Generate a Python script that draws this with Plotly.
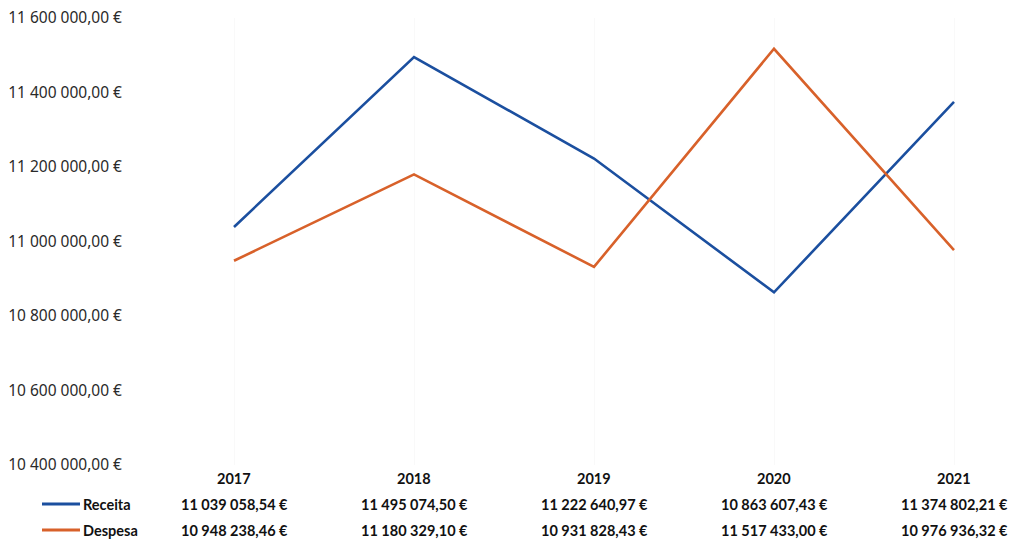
import plotly.graph_objects as go

# Annual revenue vs expenditure (EUR)
years = [2017, 2018, 2019, 2020, 2021]
receita = [11039058.54, 11495074.50, 11222640.97, 10863607.43, 11374802.21]
despesa = [10948238.46, 11180329.10, 10931828.43, 11517433.00, 10976936.32]
series_names = ["Receita", "Despesa"]
y_ticks = [10400000, 10600000, 10800000, 11000000, 11200000, 11400000, 11600000]

BLUE = "#1b4f9f"
ORANGE = "#d8612a"

W, H = 1027, 541
ML, MR, MT, MB = 140, 0, 18, 76
PW, PH = W - ML - MR, H - MT - MB


def eur(v):
    s = f"{v:,.2f}"
    return s.replace(",", " ").replace(".", ",") + " €"


def px_to_paper_x(px):
    return (px - ML) / PW


def px_to_paper_y(py):
    return (H - MB - py) / PH


fig = go.Figure()
for name, vals, col in [(series_names[0], receita, BLUE), (series_names[1], despesa, ORANGE)]:
    fig.add_trace(go.Scatter(x=years, y=vals, mode="lines", name=name,
                             line=dict(color=col, width=2.6), hoverinfo="skip"))

# data table under the chart
table_font = dict(family="Lato", size=14.5, color="#111111")
row_y = [px_to_paper_y(478), px_to_paper_y(504), px_to_paper_y(530)]
annotations = []
for i, yr in enumerate(years):
    annotations.append(dict(x=yr, y=row_y[0], xref="x", yref="paper", text=f"<b>{yr}</b>",
                            showarrow=False, font=table_font, xanchor="center", yanchor="middle"))
    annotations.append(dict(x=yr, y=row_y[1], xref="x", yref="paper", text=f"<b>{eur(receita[i])}</b>",
                            showarrow=False, font=table_font, xanchor="center", yanchor="middle"))
    annotations.append(dict(x=yr, y=row_y[2], xref="x", yref="paper", text=f"<b>{eur(despesa[i])}</b>",
                            showarrow=False, font=table_font, xanchor="center", yanchor="middle"))

shapes = []
for name, col, ry in [(series_names[0], BLUE, row_y[1]), (series_names[1], ORANGE, row_y[2])]:
    shapes.append(dict(type="line", xref="paper", yref="paper",
                       x0=px_to_paper_x(42), x1=px_to_paper_x(80), y0=ry, y1=ry,
                       line=dict(color=col, width=3)))
    annotations.append(dict(x=px_to_paper_x(81), y=ry, xref="paper", yref="paper",
                            text=f"<b>{name}</b>", showarrow=False, font=table_font,
                            xanchor="left", yanchor="middle"))

# x scale: 180 px per year, 2017 centred at x=234
px_per_year = 180
x0 = 2017 - (234 - ML) / px_per_year
x1 = x0 + PW / px_per_year

fig.update_layout(
    width=W, height=H,
    margin=dict(l=ML, r=MR, t=MT, b=MB),
    paper_bgcolor="white", plot_bgcolor="white",
    showlegend=False,
    annotations=annotations,
    shapes=shapes,
    xaxis=dict(range=[x0, x1], tickvals=years, showticklabels=False,
               showgrid=True, gridcolor="#f9f9f9", gridwidth=1,
               zeroline=False, showline=False),
    yaxis=dict(range=[10400000, 11600000], tickvals=y_ticks,
               ticktext=[eur(v) for v in y_ticks],
               showgrid=False, zeroline=False, showline=False,
               ticks="", ticklabelstandoff=17,
               tickfont=dict(family="Noto Sans", size=15.5, color="#2a2a2a")),
)

fig.write_html("out.html")
